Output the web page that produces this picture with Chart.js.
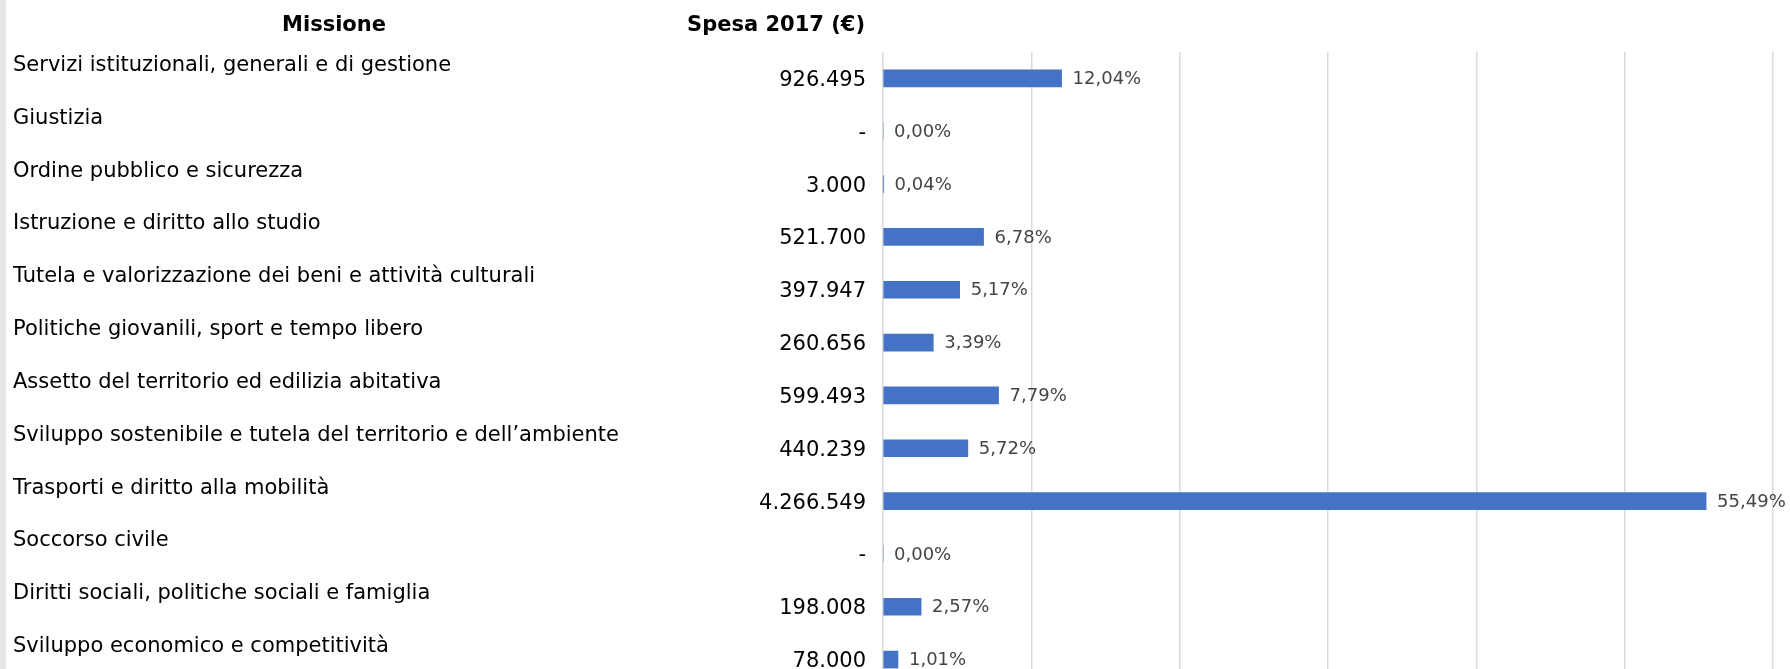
<!DOCTYPE html>
<html lang="it">
<head>
<meta charset="utf-8">
<title>Spesa 2017 per missione</title>
<script src="https://cdn.jsdelivr.net/npm/chart.js@4.4.1/dist/chart.umd.min.js"></script>
<style>
  html, body { margin: 0; padding: 0; background: #fff; overflow: hidden; }
  #wrap { position: relative; width: 1790px; height: 669px; overflow: hidden; }
  #strip { position: absolute; left: 0; top: 0; width: 6px; height: 669px; background: #e7e7e7; }
  canvas { position: absolute; left: 0; top: 0; }
</style>
</head>
<body>
<div id="wrap">
  <canvas id="spesaChart" width="1790" height="686"></canvas>
  <div id="strip"></div>
</div>
<script>
  // Dati
  const missioni = [
    'Servizi istituzionali, generali e di gestione',
    'Giustizia',
    'Ordine pubblico e sicurezza',
    'Istruzione e diritto allo studio',
    'Tutela e valorizzazione dei beni e attività culturali',
    'Politiche giovanili, sport e tempo libero',
    'Assetto del territorio ed edilizia abitativa',
    'Sviluppo sostenibile e tutela del territorio e dell’ambiente',
    'Trasporti e diritto alla mobilità',
    'Soccorso civile',
    'Diritti sociali, politiche sociali e famiglia',
    'Sviluppo economico e competitività'
  ];
  const spesa2017 = [926495, 0, 3000, 521700, 397947, 260656, 599493, 440239, 4266549, 0, 198008, 78000];
  const quote = [12.04, 0.00, 0.04, 6.78, 5.17, 3.39, 7.79, 5.72, 55.49, 0.00, 2.57, 1.01];
  const intestazioni = ['Missione', 'Spesa 2017 (€)'];

  const FONT = 'DejaVu Sans';

  function fmtEuro(v) {
    if (v === 0) return '-';
    return String(v).replace(/\B(?=(\d{3})+(?!\d))/g, '.');
  }
  function fmtQuota(v) {
    return v.toFixed(2).replace('.', ',') + '%';
  }

  // larghezza fissa per gli assi a sinistra, niente padding automatico
  function fitLeft(width) {
    return (scale) => {
      scale.width = width;
      scale.paddingTop = 0;
      scale.paddingBottom = 0;
    };
  }

  // percentuali a destra delle barre
  const quoteLabels = {
    id: 'quoteLabels',
    afterDatasetsDraw(chart) {
      const ctx = chart.ctx;
      const meta = chart.getDatasetMeta(0);
      ctx.save();
      ctx.font = '18px "' + FONT + '"';
      ctx.fillStyle = '#454545';
      ctx.textAlign = 'left';
      ctx.textBaseline = 'middle';
      meta.data.forEach((bar, i) => {
        ctx.fillText(fmtQuota(quote[i]), bar.x + 11, bar.y + 1);
      });
      ctx.restore();
    }
  };

  // intestazioni delle colonne
  const headers = {
    id: 'headers',
    afterDraw(chart) {
      const ctx = chart.ctx;
      ctx.save();
      ctx.font = 'bold 21px "' + FONT + '"';
      ctx.fillStyle = '#000';
      ctx.textBaseline = 'alphabetic';
      ctx.textAlign = 'center';
      ctx.fillText(intestazioni[0], 334, 31);
      ctx.textAlign = 'right';
      ctx.fillText(intestazioni[1], 865, 31);
      ctx.restore();
    }
  };

  const ctx = document.getElementById('spesaChart');

  new Chart(ctx, {
    type: 'bar',
    data: {
      labels: missioni,
      datasets: [{
        data: quote,
        backgroundColor: '#4472C4',
        borderWidth: 0,
        barThickness: 17,
        xAxisID: 'x',
        yAxisID: 'y'
      }]
    },
    options: {
      indexAxis: 'y',
      responsive: false,
      animation: false,
      layout: {
        padding: { top: 52, left: 13, right: 17, bottom: 0 }
      },
      plugins: {
        legend: { display: false },
        tooltip: { enabled: false }
      },
      scales: {
        x: {
          min: 0,
          max: 60,
          ticks: { stepSize: 10, display: false },
          grid: { color: '#d9d9d9', lineWidth: 1.5, drawTicks: false },
          border: { display: false },
          afterFit: (scale) => { scale.height = 0; }
        },
        y: {
          position: 'left',
          weight: 2,
          grid: { display: false, drawTicks: false },
          border: { display: false },
          ticks: {
            crossAlign: 'far',
            labelOffset: -13,
            padding: 0,
            autoSkip: false,
            color: '#000',
            font: { family: FONT, size: 21 }
          },
          afterFit: fitLeft(620)
        },
        y2: {
          type: 'category',
          labels: spesa2017.map(fmtEuro),
          offset: true,
          position: 'left',
          weight: 1,
          grid: { display: false, drawTicks: false },
          border: { display: false },
          ticks: {
            crossAlign: 'near',
            labelOffset: 2,
            padding: 17,
            autoSkip: false,
            color: '#000',
            font: { family: FONT, size: 21 }
          },
          afterFit: fitLeft(250)
        }
      }
    },
    plugins: [quoteLabels, headers]
  });
</script>
</body>
</html>
